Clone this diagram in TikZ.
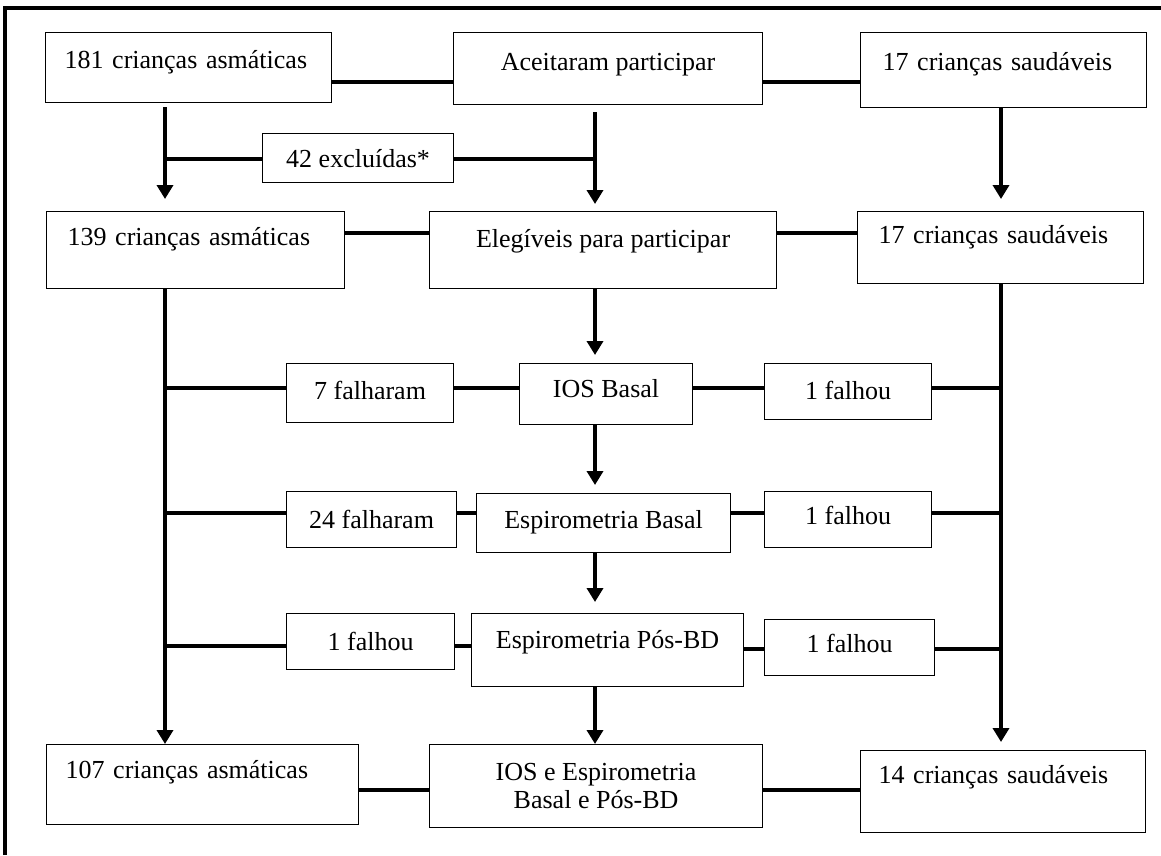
\documentclass[tikz,border=0pt]{standalone}
\usepackage{fontspec}
\setmainfont{Liberation Serif}
\usetikzlibrary{arrows.meta}

\begin{document}
\begin{tikzpicture}[
            x=1pt, y=-1pt,
            >={Triangle[width=16pt,length=14pt]},
                box/.style = {rectangle, draw=black, line width=1.1pt,
                            inner ysep=0pt, anchor=north west,
                            font=\fontsize{26}{28}\selectfont},
                sidebox/.style = {box, align=left},
                midbox/.style = {box, inner xsep=0pt, align=center},
                link/.style = {line width=3.5pt},
            ]
            \useasboundingbox (0,0) rectangle (1161,855);
            \draw[line width=3.5pt] (5,855) -- (5,8) -- (1161,8);
            \node (Asmaticas181) [sidebox, inner xsep=19pt, text width=248pt,
                text height=36pt, text depth=34pt] at (45,32) {181 crianças asmáticas};
            \node (Aceitaram) [midbox, minimum width=309pt,
                text height=38pt, text depth=34pt] at (453,32) {Aceitaram participar};
            \node (Saudaveis17) [sidebox, inner xsep=22pt, text width=242pt,
                text height=38pt, text depth=37pt] at (860,32) {17 crianças saudáveis};
            \node (Excluidas) [midbox, minimum width=191pt,
                text height=34pt, text depth=15pt] at (262,133) {42 excluídas*};
            \node (Asmaticas139) [sidebox, inner xsep=21pt, text width=256pt,
                text height=34pt, text depth=43pt] at (46,211) {139 crianças asmáticas};
            \node (Elegiveis) [midbox, minimum width=347pt,
                text height=36pt, text depth=41pt] at (429,211) {Elegíveis para participar};
            \node (Saudaveis17b) [sidebox, inner xsep=21pt, text width=244pt,
                text height=32pt, text depth=40pt] at (857,211) {17 crianças saudáveis};
            \node (Falharam7) [midbox, minimum width=167pt,
                text height=36pt, text depth=23pt] at (286,363) {7 falharam};
            \node (IOSBasal) [midbox, minimum width=173pt,
                text height=34pt, text depth=27pt] at (519,363) {IOS Basal};
            \node (Falhou1a) [midbox, minimum width=167pt,
                text height=36pt, text depth=20pt] at (764,363) {1 falhou};
            \node (Falharam24) [midbox, minimum width=170pt,
                text height=37pt, text depth=19pt] at (286,491) {24 falharam};
            \node (EspBasal) [midbox, minimum width=254pt,
                text height=35pt, text depth=24pt] at (476,493) {Espirometria Basal};
            \node (Falhou1b) [midbox, minimum width=167pt,
                text height=33pt, text depth=23pt] at (764,491) {1 falhou};
            \node (Falhou1c) [midbox, minimum width=168pt,
                text height=37pt, text depth=19pt] at (286,613) {1 falhou};
            \node (EspPosBD) [midbox, minimum width=272pt,
                text height=35pt, text depth=38pt] at (471,613) {Espirometria Pós-BD};
            \node (Falhou1d) [midbox, minimum width=170pt,
                text height=33pt, text depth=23pt] at (764,619) {1 falhou};
            \node (Asmaticas107) [sidebox, inner xsep=19pt, text width=274pt,
                text height=34pt, text depth=46pt] at (46,744) {107 crianças asmáticas};
            \node (IOSEsp) [midbox, minimum width=333pt, minimum height=83pt]
                at (429,744) {IOS e Espirometria\\Basal e Pós-BD};
            \node (Saudaveis14) [sidebox, inner xsep=18pt, text width=249pt,
                text height=33pt, text depth=49pt] at (860,750) {14 crianças saudáveis};
            \coordinate (colL) at (165,0);
            \coordinate (colC) at (595,0);
            \coordinate (colR) at (1001,0);
            \coordinate (rowA) at (0,82);
            \coordinate (rowEx) at (0,159);
            \coordinate (rowB) at (0,233);
            \coordinate (rowC) at (0,388);
            \coordinate (rowD) at (0,513);
            \coordinate (rowE) at (0,646);
            \coordinate (rowEr) at (0,649);
            \coordinate (rowF) at (0,790);
            \draw[link] (Asmaticas181.east |- rowA) -- (Aceitaram.west |- rowA);
            \draw[link] (Aceitaram.east |- rowA) -- (Saudaveis17.west |- rowA);
            \draw[link, ->, shorten <=4pt, shorten >=12pt] (Asmaticas181.south -| colL) -- (Asmaticas139.north -| colL);
            \draw[link, ->, shorten <=7pt, shorten >=7pt] (Aceitaram.south -| colC) -- (Elegiveis.north -| colC);
            \draw[link, ->, shorten >=12pt] (Saudaveis17.south -| colR) -- (Saudaveis17b.north -| colR);
            \draw[link] (colL |- rowEx) -- (Excluidas.west |- rowEx);
            \draw[link] (Excluidas.east |- rowEx) -- (colC |- rowEx);
            \draw[link] (Asmaticas139.east |- rowB) -- (Elegiveis.west |- rowB);
            \draw[link] (Elegiveis.east |- rowB) -- (Saudaveis17b.west |- rowB);
            \draw[link, ->] (Asmaticas139.south -| colL) -- (Asmaticas107.north -| colL);
            \draw[link, ->, shorten >=8pt] (Saudaveis17b.south -| colR) -- (Saudaveis14.north -| colR);
            \draw[link, ->, shorten >=8pt] (Elegiveis.south -| colC) -- (IOSBasal.north -| colC);
            \draw[link, ->, shorten >=8pt] (IOSBasal.south -| colC) -- (EspBasal.north -| colC);
            \draw[link, ->, shorten >=11pt] (EspBasal.south -| colC) -- (EspPosBD.north -| colC);
            \draw[link, ->] (EspPosBD.south -| colC) -- (IOSEsp.north -| colC);
            \draw[link] (colL |- rowC) -- (Falharam7.west |- rowC);
            \draw[link] (Falharam7.east |- rowC) -- (IOSBasal.west |- rowC);
            \draw[link] (IOSBasal.east |- rowC) -- (Falhou1a.west |- rowC);
            \draw[link] (Falhou1a.east |- rowC) -- (colR |- rowC);
            \draw[link] (colL |- rowD) -- (Falharam24.west |- rowD);
            \draw[link] (Falharam24.east |- rowD) -- (EspBasal.west |- rowD);
            \draw[link] (EspBasal.east |- rowD) -- (Falhou1b.west |- rowD);
            \draw[link] (Falhou1b.east |- rowD) -- (colR |- rowD);
            \draw[link] (colL |- rowE) -- (Falhou1c.west |- rowE);
            \draw[link] (Falhou1c.east |- rowE) -- (EspPosBD.west |- rowE);
            \draw[link] (EspPosBD.east |- rowEr) -- (Falhou1d.west |- rowEr);
            \draw[link] (Falhou1d.east |- rowEr) -- (colR |- rowEr);
            \draw[link] (Asmaticas107.east |- rowF) -- (IOSEsp.west |- rowF);
            \draw[link] (IOSEsp.east |- rowF) -- (Saudaveis14.west |- rowF);
\end{tikzpicture}
\end{document}
